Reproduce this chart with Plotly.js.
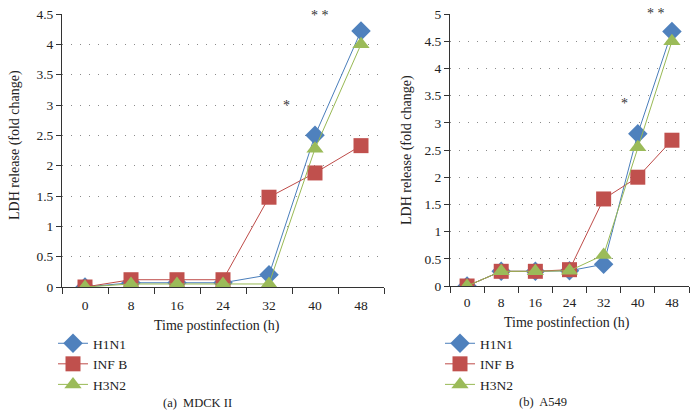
<!DOCTYPE html>
<html>
<head>
<meta charset="utf-8">
<script src="https://cdn.plot.ly/plotly-3.0.1.min.js"></script>
<style>html,body{margin:0;padding:0;background:#fff;}#chart{width:698px;height:416px;}</style>
</head>
<body>
<div id="chart"></div>
<script>
const categories = ['0','8','16','24','32','40','48'];
const seriesNames = ['H1N1','INF B','H3N2'];
// (a) MDCK II
const mdckH1N1 = [0, 0.07, 0.07, 0.07, 0.2, 2.5, 4.22];
const mdckINFB = [0, 0.12, 0.12, 0.12, 1.48, 1.88, 2.33];
const mdckH3N2 = [0, 0.05, 0.05, 0.05, 0.05, 2.28, 4.0];
// (b) A549
const a549H1N1 = [0, 0.27, 0.27, 0.28, 0.4, 2.8, 4.68];
const a549INFB = [0, 0.27, 0.27, 0.3, 1.6, 2.0, 2.68];
const a549H3N2 = [0, 0.27, 0.27, 0.28, 0.57, 2.55, 4.5];
const yTicksA = [0,0.5,1,1.5,2,2.5,3,3.5,4,4.5];
const yTicksB = [0,0.5,1,1.5,2,2.5,3,3.5,4,4.5,5];

const colors = ['#4f81bd','#c0504d','#9bbb59'];
const lineColors = ['#4a7ebb','#be4b48','#98b954'];
const symbols = ['diamond','square','triangle-up'];
const sizes = [15,15,15];
const FONT = 'Liberation Serif, Times New Roman, serif';

function mk(y, i, xa, ya, lg) {
  return {
    x: categories, y: y, type: 'scatter', mode: 'lines+markers',
    name: seriesNames[i], xaxis: xa, yaxis: ya, legend: lg,
    line: {color: lineColors[i], width: 1},
    marker: {color: colors[i], symbol: symbols[i], size: sizes[i], line: {width: 0}}
  };
}
const data = [
  mk(mdckH1N1,0,'x','y','legend'), mk(mdckINFB,1,'x','y','legend'), mk(mdckH3N2,2,'x','y','legend'),
  mk(a549H1N1,0,'x2','y2','legend2'), mk(a549INFB,1,'x2','y2','legend2'), mk(a549H3N2,2,'x2','y2','legend2')
];
const W = 698, H = 416;
const px = v => v / W, py = v => 1 - v / H;
const xCommon = {type:'category', range:[-0.5,6.5], tickson:'boundaries', ticks:'outside', ticklen:6,
  tickcolor:'#333', showline:true, linecolor:'#333', linewidth:1, showgrid:false, zeroline:false,
  tickfont:{family:FONT,size:13.5,color:'#222'}, fixedrange:true};
const yCommon = {ticks:'outside', ticklen:5, tickcolor:'#333', showline:true, linecolor:'#333', linewidth:1,
  showgrid:true, gridcolor:'#8a8a8a', griddash:'1px,8px', gridwidth:1, zeroline:false,
  tickfont:{family:FONT,size:13.5,color:'#222'}, tickmode:'array'};
const legCommon = {font:{family:FONT,size:13.5,color:'#222'}, bgcolor:'rgba(0,0,0,0)', tracegroupgap:0,
  itemwidth:30, xanchor:'left', yanchor:'top', orientation:'v'};
function ann(text, x, y, extra) {
  return Object.assign({text:text, xref:'paper', yref:'paper', x:px(x), y:py(y), xanchor:'center', yanchor:'middle',
    showarrow:false, font:{family:FONT,size:14,color:'#222'}}, extra || {});
}
function star(text, xr, yr, x, y) {
  return {text:text, xref:xr, yref:yr, x:x, y:y, xanchor:'center', yanchor:'middle', showarrow:false,
    font:{family:FONT,size:14,color:'#333'}};
}
const capFont = {family:FONT,size:12.5,color:'#222'};
const layout = {
  width: W, height: H, margin:{l:0,r:0,t:0,b:0}, paper_bgcolor:'#fff', plot_bgcolor:'#fff',
  font:{family:FONT, color:'#222'},
  xaxis: Object.assign({}, xCommon, {domain:[px(62), px(384)], anchor:'y', ticklabelstandoff:6}),
  yaxis: Object.assign({}, yCommon, {domain:[py(287), py(14)], range:[0,4.5], tickvals:yTicksA, ticktext:yTicksA.map(String), anchor:'x'}),
  xaxis2: Object.assign({}, xCommon, {domain:[px(450), px(689)], anchor:'y2', ticklabelstandoff:4}),
  yaxis2: Object.assign({}, yCommon, {domain:[py(286), py(14)], range:[0,5], tickvals:yTicksB, ticktext:yTicksB.map(String), anchor:'x2'}),
  showlegend: true,
  legend: Object.assign({}, legCommon, {x:px(53), y:py(328)}),
  legend2: Object.assign({}, legCommon, {x:px(440), y:py(328)}),
  annotations: [
    ann('LDH release (fold change)', 15, 145, {textangle:-90}),
    ann('LDH release (fold change)', 407, 150, {textangle:-90}),
    ann('Time postinfection (h)', 217, 326),
    ann('Time postinfection (h)', 567, 323),
    ann('(a)  MDCK II', 197, 403, {font:capFont}),
    ann('(b)  A549', 543, 402, {font:capFont}),
    star('*', 'x', 'y', 4.39, 3.0),
    star('* *', 'x', 'y', 5.1, 4.47),
    star('*', 'x2', 'y2', 4.6, 3.36),
    star('* *', 'x2', 'y2', 5.53, 5.0)
  ]
};
Plotly.newPlot('chart', data, layout, {displayModeBar:false, staticPlot:true});
</script>
</body>
</html>
